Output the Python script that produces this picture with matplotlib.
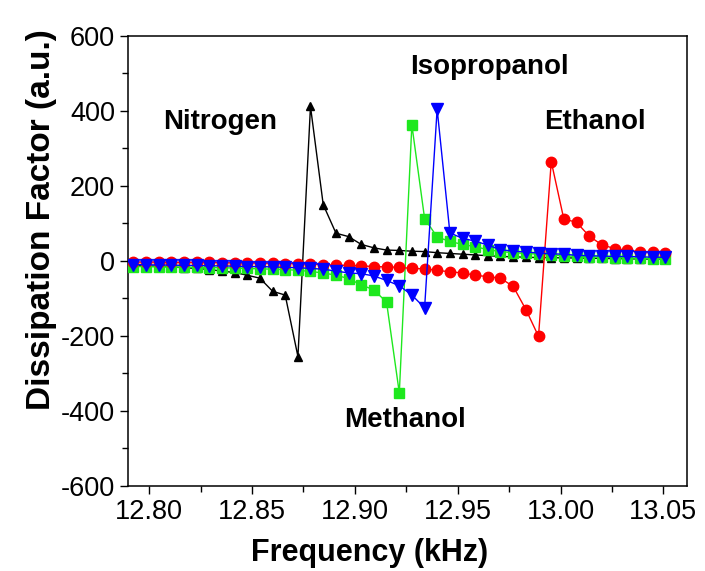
import numpy as np
import matplotlib
matplotlib.use("Agg")
import matplotlib.pyplot as plt
from matplotlib.ticker import MultipleLocator, FormatStrFormatter

plt.rcParams['font.family'] = ['Liberation Sans', 'DejaVu Sans']
plt.rcParams['axes.unicode_minus'] = False

# frequency grid (kHz), same for all four gases
freq = [12.7922, 12.7984, 12.8045, 12.8107, 12.8168, 12.8230, 12.8292, 12.8353,
        12.8415, 12.8476, 12.8538, 12.8600, 12.8661, 12.8723, 12.8784, 12.8846,
        12.8908, 12.8969, 12.9031, 12.9092, 12.9154, 12.9216, 12.9277, 12.9339,
        12.9400, 12.9462, 12.9524, 12.9585, 12.9647, 12.9708, 12.9770, 12.9832,
        12.9893, 12.9955, 13.0016, 13.0078, 13.0140, 13.0201, 13.0263, 13.0324,
        13.0386, 13.0448, 13.0509]

nitrogen = [-12, -13, -14, -16, -18, -20, -23, -27, -31, -38, -46, -81, -91, -255,
            412, 150, 74, 65, 44, 35, 29, 28, 26, 25, 22, 20, 18, 16, 14, 12, 11,
            10, 9, 9, 8, 8, 7, 7, 6, 6, 5, 5, 5]

methanol = [-15, -15, -16, -16, -17, -17, -18, -18, -19, -20, -21, -22, -23, -25,
            -28, -32, -38, -47, -64, -77, -110, -352, 363, 113, 64, 52, 44, 38, 30,
            25, 22, 20, 18, 16, 14, 12, 11, 10, 9, 8, 7, 6, 6]

isopropanol = [-10, -10, -11, -11, -12, -12, -13, -13, -14, -15, -15, -16, -17, -18,
               -20, -22, -27, -32, -34, -40, -52, -66, -91, -125, 405, 75, 60, 53, 42,
               30, 26, 24, 21, 19, 18, 15, 14, 13, 12, 12, 11, 10, 10]

ethanol = [-3, -3, -3, -4, -4, -4, -4, -5, -5, -5, -6, -6, -7, -7, -8, -10, -11, -12,
           -13, -15, -16, -17, -20, -21, -25, -29, -32, -38, -42, -46, -68, -130, -201,
           265, 112, 103, 66, 43, 33, 28, 25, 23, 22]

fig = plt.figure(figsize=(7.05, 5.71), dpi=100)
ax = fig.add_axes([0.182, 0.149, 0.793, 0.788])

ax.plot(freq, nitrogen, '-^', color='black', lw=1, ms=5.5, zorder=2)
ax.plot(freq, methanol, '-s', color='#1ee81e', lw=1, ms=6.5, zorder=3)
ax.plot(freq, ethanol, '-o', color='#ff0000', lw=1, ms=7.5, zorder=4)
ax.plot(freq, isopropanol, '-v', color='#0000ff', lw=1, ms=8, zorder=5)

ax.set_xlim(12.7898, 13.0617)
ax.set_ylim(-600, 600)
ax.xaxis.set_major_locator(MultipleLocator(0.05))
ax.xaxis.set_minor_locator(MultipleLocator(0.025))
ax.xaxis.set_major_formatter(FormatStrFormatter('%.2f'))
ax.yaxis.set_major_locator(MultipleLocator(200))
ax.yaxis.set_minor_locator(MultipleLocator(100))
ax.tick_params(which='both', direction='out', top=False, right=False, width=1)
ax.tick_params(which='major', length=6, labelsize=19.5)
ax.tick_params(which='minor', length=4)
for s in ax.spines.values():
    s.set_linewidth(1.1)

ax.set_xlabel('Frequency (kHz)', fontsize=22, fontweight='bold')
ax.set_ylabel('Dissipation Factor (a.u.)', fontsize=24, fontweight='bold')
ax.xaxis.set_label_coords(0.431, -0.115)
ax.yaxis.set_label_coords(-0.127, 0.592)

tk = dict(fontsize=20, fontweight='bold', ha='center', va='center')
ax.text(12.8344, 371, 'Nitrogen', **tk)
ax.text(12.9652, 517, 'Isopropanol', **tk)
ax.text(13.0168, 371, 'Ethanol', **tk)
ax.text(12.9244, -423, 'Methanol', **tk)

fig.savefig('out.png', dpi=100)
